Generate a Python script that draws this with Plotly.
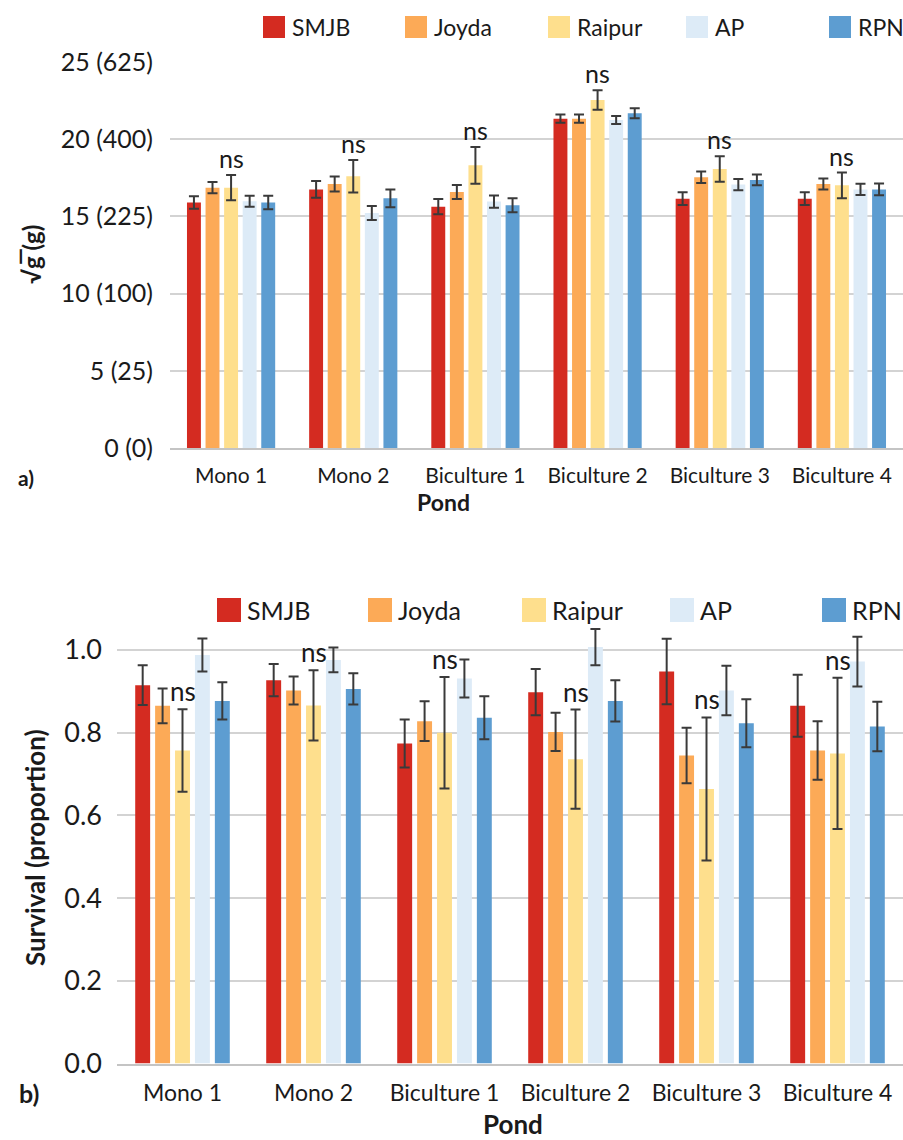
import plotly.graph_objects as go
from plotly.subplots import make_subplots

# ---------------- data ----------------
ponds = ["Mono 1", "Mono 2", "Biculture 1", "Biculture 2", "Biculture 3", "Biculture 4"]
strains = ["SMJB", "Joyda", "Raipur", "AP", "RPN"]
colors = ["#D42B21", "#FCAA57", "#FEDF8D", "#DDEBF7", "#5D9DD1"]

# panel a: sqrt(weight)
smjb_w = [15.9, 16.75, 15.63, 21.33, 16.15, 16.15]
joyda_w = [16.86, 17.1, 16.58, 21.33, 17.53, 17.1]
raipur_w = [16.86, 17.6, 18.31, 22.54, 18.07, 17.01]
ap_w = [15.98, 15.22, 15.96, 21.24, 17.06, 16.75]
rpn_w = [15.9, 16.17, 15.72, 21.68, 17.36, 16.75]
smjb_w_err = [0.4, 0.54, 0.49, 0.27, 0.41, 0.41]
joyda_w_err = [0.36, 0.49, 0.45, 0.27, 0.37, 0.36]
raipur_w_err = [0.82, 1.05, 1.19, 0.63, 0.82, 0.83]
ap_w_err = [0.35, 0.45, 0.4, 0.26, 0.37, 0.36]
rpn_w_err = [0.43, 0.57, 0.45, 0.32, 0.35, 0.38]
w_tickvals = [0, 5, 10, 15, 20, 25]
w_ticktext = ["0 (0)", "5 (25)", "10 (100)", "15 (225)", "20 (400)", "25 (625)"]

# panel b: survival
smjb_s = [0.915, 0.927, 0.774, 0.898, 0.948, 0.865]
joyda_s = [0.865, 0.902, 0.828, 0.802, 0.745, 0.757]
raipur_s = [0.757, 0.866, 0.80, 0.736, 0.664, 0.75]
ap_s = [0.988, 0.976, 0.931, 1.007, 0.902, 0.972]
rpn_s = [0.877, 0.906, 0.836, 0.877, 0.823, 0.815]
smjb_s_err = [0.048, 0.039, 0.058, 0.056, 0.079, 0.075]
joyda_s_err = [0.042, 0.034, 0.048, 0.046, 0.067, 0.071]
raipur_s_err = [0.10, 0.085, 0.135, 0.12, 0.173, 0.183]
ap_s_err = [0.04, 0.03, 0.046, 0.044, 0.06, 0.06]
rpn_s_err = [0.045, 0.038, 0.052, 0.05, 0.058, 0.06]
s_tickvals = [0.0, 0.2, 0.4, 0.6, 0.8, 1.0]
s_ticktext = ["0.0", "0.2", "0.4", "0.6", "0.8", "1.0"]

weights = [smjb_w, joyda_w, raipur_w, ap_w, rpn_w]
weight_errs = [smjb_w_err, joyda_w_err, raipur_w_err, ap_w_err, rpn_w_err]
survs = [smjb_s, joyda_s, raipur_s, ap_s, rpn_s]
surv_errs = [smjb_s_err, joyda_s_err, raipur_s_err, ap_s_err, rpn_s_err]

# ---------------- figure ----------------
W, H = 903, 1140
FONT = "Lato"
TXT = "#1a1a1a"
GRID = "#d3d3d3"


def px(x):
    return x / W


def py(y):
    return 1 - y / H


fig = make_subplots(rows=2, cols=1)

for i, s in enumerate(strains):
    fig.add_trace(go.Bar(
        x=ponds, y=weights[i], name=s, marker_color=colors[i], marker_line_width=0,
        error_y=dict(type="data", array=weight_errs[i], color="#3a3a3a", thickness=2, width=5),
        showlegend=False), row=1, col=1)
    fig.add_trace(go.Bar(
        x=ponds, y=survs[i], name=s, marker_color=colors[i], marker_line_width=0,
        error_y=dict(type="data", array=surv_errs[i], color="#3a3a3a", thickness=2, width=5),
        showlegend=False), row=2, col=1)

fig.update_layout(
    template="none",
    width=W, height=H, margin=dict(l=0, r=0, t=0, b=0, pad=0, autoexpand=False),
    paper_bgcolor="white", plot_bgcolor="white",
    barmode="group", bargap=0.24, bargroupgap=0.25,
    font=dict(family=FONT, color=TXT),
    showlegend=False,
)

fig.update_xaxes(domain=[px(170), 1.0], row=1, col=1)
fig.update_yaxes(domain=[py(448), py(62)], row=1, col=1)
fig.update_xaxes(domain=[px(117), 1.0], row=2, col=1)
fig.update_yaxes(domain=[py(1063.5), py(600.4)], row=2, col=1)

fig.update_xaxes(automargin=False)
fig.update_yaxes(automargin=False)

fig.update_xaxes(showline=True, linecolor="#c4c4c4", linewidth=2, showgrid=False, zeroline=False,
                 ticks="", tickfont=dict(size=21, color=TXT), ticklabelstandoff=8, row=1, col=1)
fig.update_xaxes(showline=True, linecolor="#c4c4c4", linewidth=2, showgrid=False, zeroline=False,
                 ticks="", tickfont=dict(size=23, color=TXT), ticklabelstandoff=8, row=2, col=1)
fig.update_yaxes(range=[0, 25], tickvals=w_tickvals, ticktext=w_ticktext,
                 showgrid=True, gridcolor=GRID, gridwidth=1.5, zeroline=False, showline=False,
                 tickfont=dict(size=25, color=TXT), ticks="", ticklabelstandoff=16, row=1, col=1)
fig.update_yaxes(range=[0, 1.12], tickvals=s_tickvals, ticktext=s_ticktext,
                 showgrid=True, gridcolor=GRID, gridwidth=1.5, zeroline=False, showline=False,
                 tickfont=dict(size=27, color=TXT), ticks="", ticklabelstandoff=14, row=2, col=1)

# "ns" labels above Raipur (middle bar of each group)
for j, p in enumerate(ponds):
    fig.add_annotation(x=p, y=raipur_w[j] + raipur_w_err[j], xref="x", yref="y",
                       text="ns", showarrow=False, xanchor="center", yanchor="bottom", yshift=0,
                       font=dict(size=25, color=TXT, family=FONT))
    fig.add_annotation(x=p, y=raipur_s[j] + raipur_s_err[j], xref="x2", yref="y2",
                       text="ns", showarrow=False, xanchor="center", yanchor="bottom", yshift=0,
                       font=dict(size=26, color=TXT, family=FONT))

# custom legends
leg_a_x = [263, 405, 548, 686, 829]
leg_b_x = [217, 368, 522, 670, 822]
for i, s in enumerate(strains):
    x0 = leg_a_x[i]
    fig.add_shape(type="rect", xref="paper", yref="paper", x0=px(x0), x1=px(x0 + 22),
                  y0=py(38), y1=py(16), fillcolor=colors[i], line_width=0)
    fig.add_annotation(x=px(x0 + 27), y=py(27), xref="paper", yref="paper", text=s,
                       showarrow=False, xanchor="left", yanchor="middle",
                       font=dict(size=23, color=TXT, family=FONT))
    x0 = leg_b_x[i]
    fig.add_shape(type="rect", xref="paper", yref="paper", x0=px(x0), x1=px(x0 + 24),
                  y0=py(622), y1=py(598), fillcolor=colors[i], line_width=0)
    fig.add_annotation(x=px(x0 + 28), y=py(610), xref="paper", yref="paper", text=s,
                       showarrow=False, xanchor="left", yanchor="middle",
                       font=dict(size=25, color=TXT, family=FONT))


def label(x, y, text, size, angle=0):
    fig.add_annotation(x=px(x), y=py(y), xref="paper", yref="paper", text=text,
                       showarrow=False, xanchor="center", yanchor="middle", textangle=angle,
                       font=dict(size=size, color=TXT, family=FONT))


# axis titles and panel labels
label(443, 502, "<b>Pond</b>", 23)
label(513, 1124, "<b>Pond</b>", 26)
label(31, 255, "<b>√g\u0305 (g)</b>", 24, -90)
label(35, 848, "<b>Survival (proportion)</b>", 26, -90)
label(26, 478, "<b>a)</b>", 21)
label(29, 1093, "<b>b)</b>", 25)

fig.write_html("out.html", config={"displayModeBar": False},
               post_script="document.body.style.margin='0';document.body.style.padding='0';")
